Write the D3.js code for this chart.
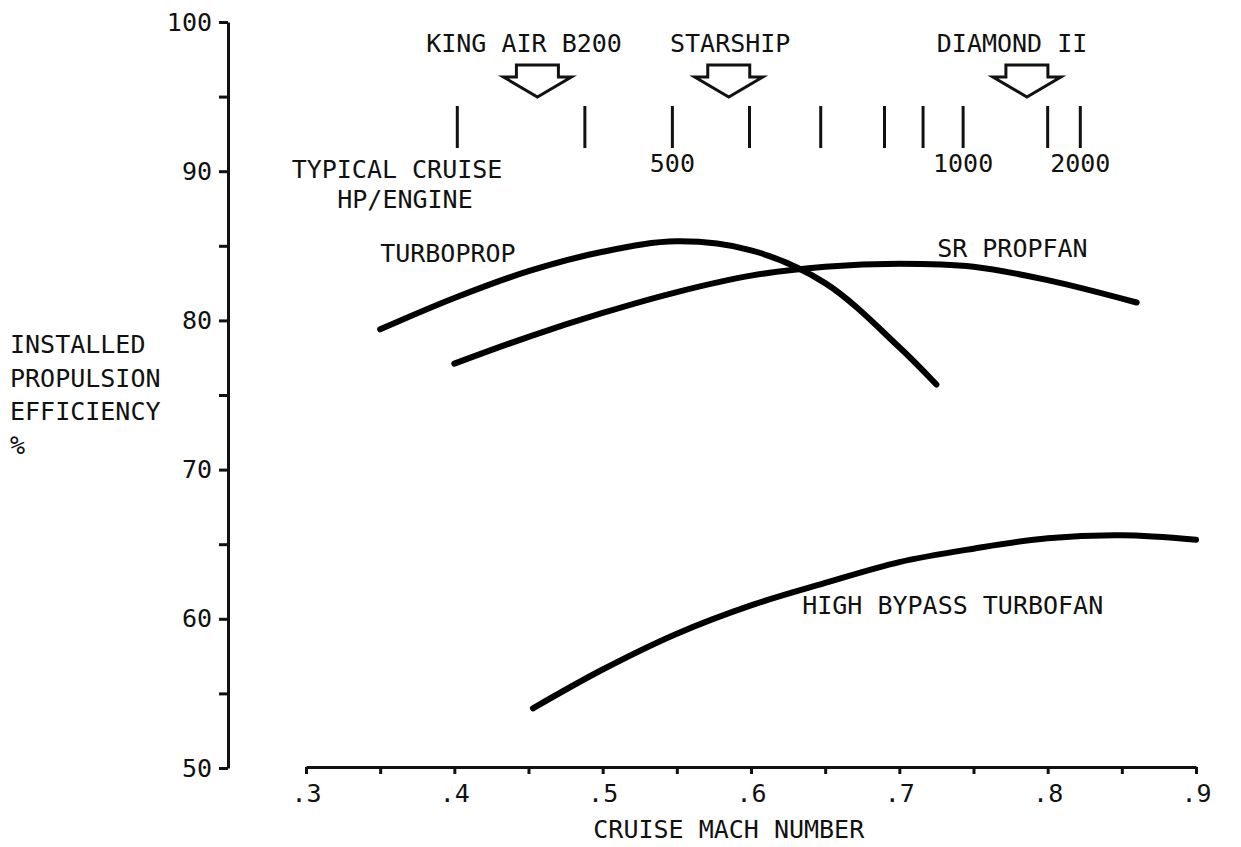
<!DOCTYPE html>
<html>
<head>
<meta charset="utf-8">
<script src="https://cdn.jsdelivr.net/npm/d3@7"></script>
<style>
  html, body { margin: 0; padding: 0; background: #fff; }
  svg { display: block; }
  text { font-family: "DejaVu Sans Mono", "Liberation Mono", monospace; font-size: 25px; fill: #111; }
</style>
</head>
<body>
<script>
// ---- data ----
const turbopropMach = [0.35, 0.40, 0.45, 0.50, 0.55, 0.60, 0.65, 0.70, 0.725];
const turbopropEff  = [79.4, 81.5, 83.3, 84.6, 85.3, 84.7, 82.5, 78.2, 75.7];

const propfanMach = [0.40, 0.45, 0.50, 0.55, 0.60, 0.65, 0.70, 0.75, 0.80, 0.86];
const propfanEff  = [77.1, 78.9, 80.5, 81.9, 83.0, 83.6, 83.8, 83.6, 82.7, 81.2];

const turbofanMach = [0.453, 0.50, 0.55, 0.60, 0.65, 0.70, 0.75, 0.80, 0.85, 0.90];
const turbofanEff  = [54.0, 56.6, 59.0, 60.9, 62.4, 63.8, 64.7, 65.4, 65.6, 65.3];

// Typical cruise HP per engine scale (HP value -> Mach position)
const hpValues = [300, 400, 500, 600, 700, 800, 900, 1000, 1500, 2000];
const hpMach   = [0.402, 0.488, 0.547, 0.599, 0.647, 0.690, 0.716, 0.743, 0.800, 0.822];
const hpLabels = [500, 1000, 2000];

// aircraft markers
const aircraftNames = ["KING AIR B200", "STARSHIP", "DIAMOND II"];
const aircraftMach  = [0.456, 0.585, 0.786];
const aircraftLabelMach = [0.447, 0.586, 0.776];

// axes ticks
const xTicks = [0.30, 0.35, 0.40, 0.45, 0.50, 0.55, 0.60, 0.65, 0.70, 0.75, 0.80, 0.85, 0.90];
const yTicks = [50, 55, 60, 65, 70, 75, 80, 85, 90, 95, 100];

// curve labels
const curveLabels = ["TURBOPROP", "SR PROPFAN", "HIGH BYPASS TURBOFAN"];
const curveLabelMach = [0.350, 0.7255, 0.6345];
const curveLabelEff  = [83.9, 84.25, 60.3];

// ---- chart ----
const W = 1241, H = 847;
const svg = d3.select("body").append("svg").attr("width", W).attr("height", H);
svg.append("rect").attr("width", W).attr("height", H).attr("fill", "#fff");

const x = d3.scaleLinear().domain([0.3, 0.9]).range([306, 1196]);
const y = d3.scaleLinear().domain([50, 100]).range([768, 22]);
const hpScale = d3.scaleLinear().domain(hpValues).range(hpMach);

// Y axis
const yAxis = d3.axisLeft(y).tickValues(yTicks).tickSize(9).tickSizeOuter(0).tickPadding(7)
  .tickFormat(d => d % 10 === 0 ? d : "");
const gy = svg.append("g").attr("transform", "translate(228,0)").call(yAxis);
gy.select(".domain").attr("stroke", "#111").attr("stroke-width", 3);
gy.selectAll(".tick line").attr("stroke", "#111").attr("stroke-width", 3);
gy.selectAll(".tick text").style("font-size", "25px").style("font-family", "DejaVu Sans Mono").attr("fill", "#111");
gy.attr("font-size", null).attr("font-family", null);

// X axis
const xAxis = d3.axisBottom(x).tickValues(xTicks).tickSize(7).tickSizeOuter(0).tickPadding(10)
  .tickFormat(d => { const r = Math.round(d * 100); return r % 10 === 0 ? "." + (r / 10) : ""; });
const gx = svg.append("g").attr("transform", "translate(0,767)").call(xAxis);
gx.select(".domain").attr("stroke", "#111").attr("stroke-width", 3);
gx.selectAll(".tick line").attr("stroke", "#111").attr("stroke-width", 3);
gx.selectAll(".tick text").style("font-size", "25px").style("font-family", "DejaVu Sans Mono").attr("fill", "#111");
gx.attr("font-size", null).attr("font-family", null);

// axis titles
svg.append("text").attr("x", x(0.585)).attr("y", 838).attr("text-anchor", "middle").text("CRUISE MACH NUMBER");
const yTitle = ["INSTALLED", "PROPULSION", "EFFICIENCY", "%"];
svg.append("g").selectAll("text").data(yTitle).join("text")
  .attr("x", 10).attr("y", (d, i) => 353 + i * 33.5).text(d => d);

// curves
const line = d3.line().x(d => x(d[0])).y(d => y(d[1])).curve(d3.curveCatmullRom.alpha(0.5));
const series = [
  d3.zip(turbopropMach, turbopropEff),
  d3.zip(propfanMach, propfanEff),
  d3.zip(turbofanMach, turbofanEff)
];
svg.append("g").selectAll("path").data(series).join("path")
  .attr("d", line).attr("fill", "none").attr("stroke", "#000")
  .attr("stroke-width", 6).attr("stroke-linecap", "round").attr("stroke-linejoin", "round");

// curve labels
svg.append("g").selectAll("text").data(curveLabels).join("text")
  .attr("x", (d, i) => x(curveLabelMach[i])).attr("y", (d, i) => y(curveLabelEff[i]))
  .text(d => d);

// HP scale ticks
svg.append("g").selectAll("line").data(hpValues).join("line")
  .attr("x1", d => x(hpScale(d))).attr("x2", d => x(hpScale(d)))
  .attr("y1", 106).attr("y2", 148).attr("stroke", "#111").attr("stroke-width", 3);
svg.append("g").selectAll("text").data(hpLabels).join("text")
  .attr("x", d => x(hpScale(d))).attr("y", 172).attr("text-anchor", "middle").text(d => d);
svg.append("text").attr("x", 397).attr("y", 178).attr("text-anchor", "middle").text("TYPICAL CRUISE");
svg.append("text").attr("x", 405).attr("y", 208).attr("text-anchor", "middle").text("HP/ENGINE");

// aircraft arrows
const arrow = cx => {
  const top = 65, sh = 77, tip = 97, sw = 21, ww = 34;
  return `M${cx - sw},${top}L${cx + sw},${top}L${cx + sw},${sh}L${cx + ww},${sh}L${cx},${tip}L${cx - ww},${sh}L${cx - sw},${sh}Z`;
};
svg.append("g").selectAll("path").data(aircraftMach).join("path")
  .attr("d", d => arrow(x(d))).attr("fill", "#fff").attr("stroke", "#111")
  .attr("stroke-width", 3).attr("stroke-linejoin", "miter");
svg.append("g").selectAll("text").data(aircraftNames).join("text")
  .attr("x", (d, i) => x(aircraftLabelMach[i])).attr("y", 52).attr("text-anchor", "middle").text(d => d);
</script>
</body>
</html>
